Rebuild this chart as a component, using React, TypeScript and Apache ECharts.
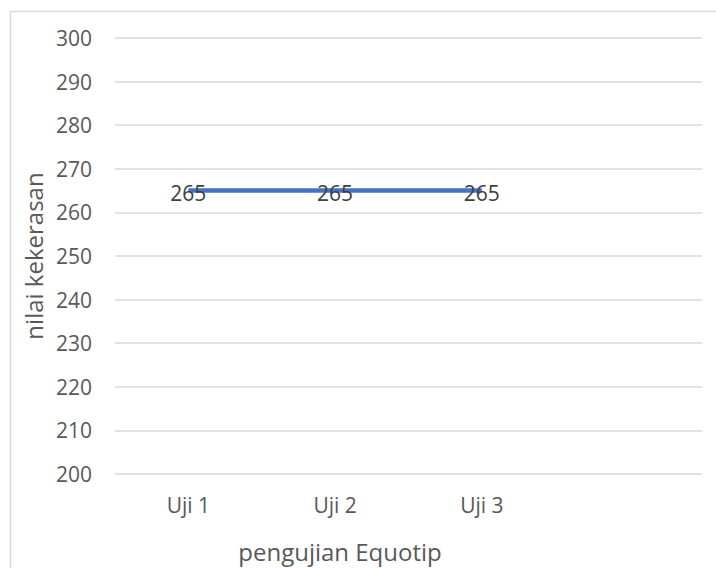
import React, { useEffect, useRef } from "react";
import * as echarts from "echarts";

const categories = ["Uji 1", "Uji 2", "Uji 3", ""];
const values = [265, 265, 265];
const yMin = 200;
const yMax = 300;
const yStep = 10;
const xTitle = "pengujian Equotip";
const yTitle = "nilai kekerasan";

export default function App() {
  const ref = useRef<HTMLDivElement>(null);
  useEffect(() => {
    const chart = echarts.init(ref.current!, null, { renderer: "svg" });
    const font = "'Open Sans', sans-serif";
    chart.setOption({
      animation: false,
      backgroundColor: "#ffffff",
      textStyle: { fontFamily: font },
      graphic: [
        {
          type: "rect",
          shape: { x: 10.5, y: 11.5, width: 740, height: 600 },
          style: { fill: "none", stroke: "#d9d9d9", lineWidth: 1.5 },
          silent: true,
        },
        {
          type: "text",
          x: 340,
          y: 551,
          style: {
            text: xTitle,
            fill: "#595959",
            fontSize: 24,
            fontFamily: font,
            align: "center",
            verticalAlign: "middle",
          },
          silent: true,
        },
      ],
      grid: { left: 115, right: 14, top: 38, bottom: 94, containLabel: false },
      xAxis: {
        type: "category",
        data: categories,
        boundaryGap: true,
        axisLine: { show: false },
        axisTick: { show: false },
        splitLine: { show: false },
        axisLabel: { color: "#595959", fontSize: 21, margin: 20, fontFamily: font },
      },
      yAxis: {
        type: "value",
        min: yMin,
        max: yMax,
        interval: yStep,
        axisLine: { show: false },
        axisTick: { show: false },
        splitLine: { lineStyle: { color: "#d9d9d9", width: 1.5 } },
        axisLabel: { color: "#595959", fontSize: 21, margin: 23, fontFamily: font },
        name: yTitle,
        nameLocation: "middle",
        nameGap: 70,
        nameRotate: 90,
        nameTextStyle: { color: "#595959", fontSize: 24, fontFamily: font },
      },
      series: [
        {
          type: "line",
          data: values,
          symbol: "circle",
          symbolSize: 1,
          itemStyle: { color: "rgba(0,0,0,0)" },
          lineStyle: { color: "#4472c4", width: 4.5 },
          label: {
            show: true,
            position: "inside",
            offset: [0, 2],
            color: "#404040",
            fontSize: 21,
            fontFamily: font,
          },
        },
      ],
    });
    return () => chart.dispose();
  }, []);
  return (
    <div
      ref={ref}
      style={{ position: "fixed", left: 0, top: 0, width: 716, height: 568 }}
    />
  );
}
